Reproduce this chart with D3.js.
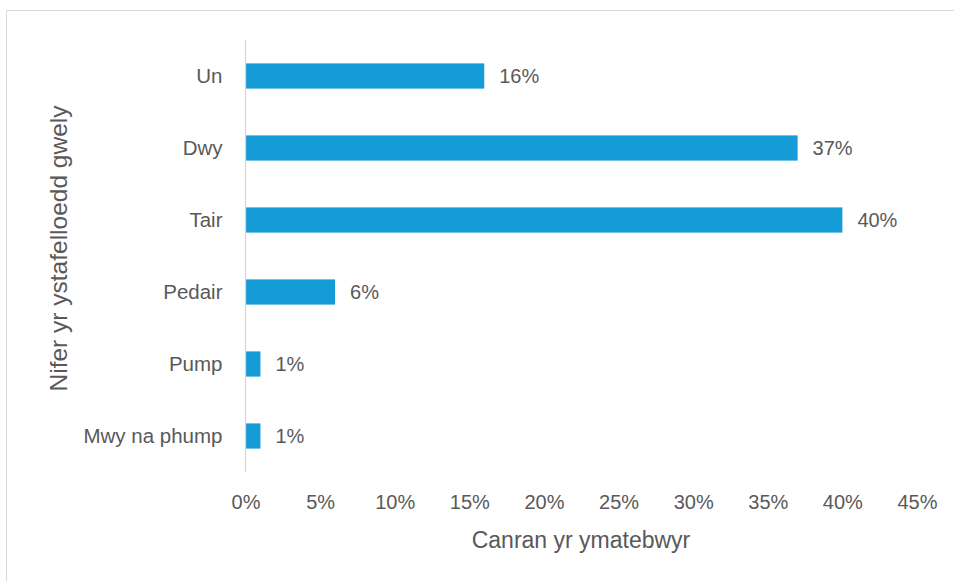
<!DOCTYPE html>
<html>
<head>
<meta charset="utf-8">
<script src="https://cdn.jsdelivr.net/npm/d3@7"></script>
<style>
  html, body { margin: 0; padding: 0; background: #fff; }
  svg { display: block; }
  text { font-family: "Liberation Sans", Arial, sans-serif; fill: #595959; }
</style>
</head>
<body>
<div id="chart"></div>
<script>
// Number of bedrooms and share of respondents
const categories = ["Un", "Dwy", "Tair", "Pedair", "Pump", "Mwy na phump"];
const percentages = [16, 37, 40, 6, 1, 1];
const xTicks = [0, 5, 10, 15, 20, 25, 30, 35, 40, 45];
const xTitle = "Canran yr ymatebwyr";
const yTitle = "Nifer yr ystafelloedd gwely";

const width = 954, height = 581;
const barColor = "#159bd6";
const lineColor = "#d9d9d9";

const svg = d3.select("#chart").append("svg")
  .attr("width", width)
  .attr("height", height);

svg.append("rect").attr("width", width).attr("height", height).attr("fill", "#fff");

// chart area frame (top and left edges visible)
svg.append("rect")
  .attr("x", 6.5).attr("y", 10.5)
  .attr("width", 1000).attr("height", 700)
  .attr("fill", "none")
  .attr("stroke", lineColor)
  .attr("stroke-width", 1);

const x = d3.scaleLinear().domain([0, 45]).range([245.5, 917]);
const y = d3.scaleBand().domain(categories).range([40, 472])
  .paddingInner(0.65).paddingOuter(0.325);

// bars
svg.append("g").selectAll("rect")
  .data(categories)
  .join("rect")
  .attr("x", x(0))
  .attr("y", d => y(d))
  .attr("width", (d, i) => x(percentages[i]) - x(0))
  .attr("height", y.bandwidth())
  .attr("fill", barColor);

// value labels
svg.append("g").selectAll("text")
  .data(categories)
  .join("text")
  .attr("x", (d, i) => x(percentages[i]) + 15)
  .attr("y", d => y(d) + y.bandwidth() / 2)
  .attr("dy", "0.36em")
  .style("font-size", "20px")
  .text((d, i) => percentages[i] + "%");

// category axis
const yAxis = svg.append("g")
  .attr("transform", `translate(${x(0)},0)`)
  .call(d3.axisLeft(y).tickSize(0).tickPadding(23));
yAxis.select(".domain").remove();
yAxis.selectAll("text")
  .attr("dy", "0.33em")
  .style("font-size", "20.5px")
  .style("font-family", "'Liberation Sans', Arial, sans-serif")
  .attr("fill", "#595959");

// vertical axis line
svg.append("line")
  .attr("x1", x(0)).attr("x2", x(0))
  .attr("y1", 40).attr("y2", 472)
  .attr("stroke", lineColor)
  .attr("stroke-width", 1.3);

// value axis
const xAxis = svg.append("g")
  .attr("transform", "translate(0,494)")
  .call(d3.axisBottom(x).tickValues(xTicks).tickSize(0).tickPadding(0)
    .tickFormat(d => d + "%"));
xAxis.select(".domain").remove();
xAxis.selectAll("text")
  .attr("dy", "0.75em")
  .style("font-size", "20px")
  .style("font-family", "'Liberation Sans', Arial, sans-serif")
  .attr("fill", "#595959");

// axis titles
svg.append("text")
  .attr("x", 581).attr("y", 548)
  .attr("text-anchor", "middle")
  .style("font-size", "23px")
  .text(xTitle);

svg.append("text")
  .attr("transform", "translate(67,248.5) rotate(-90)")
  .attr("text-anchor", "middle")
  .style("font-size", "24.5px")
  .text(yTitle);
</script>
</body>
</html>
